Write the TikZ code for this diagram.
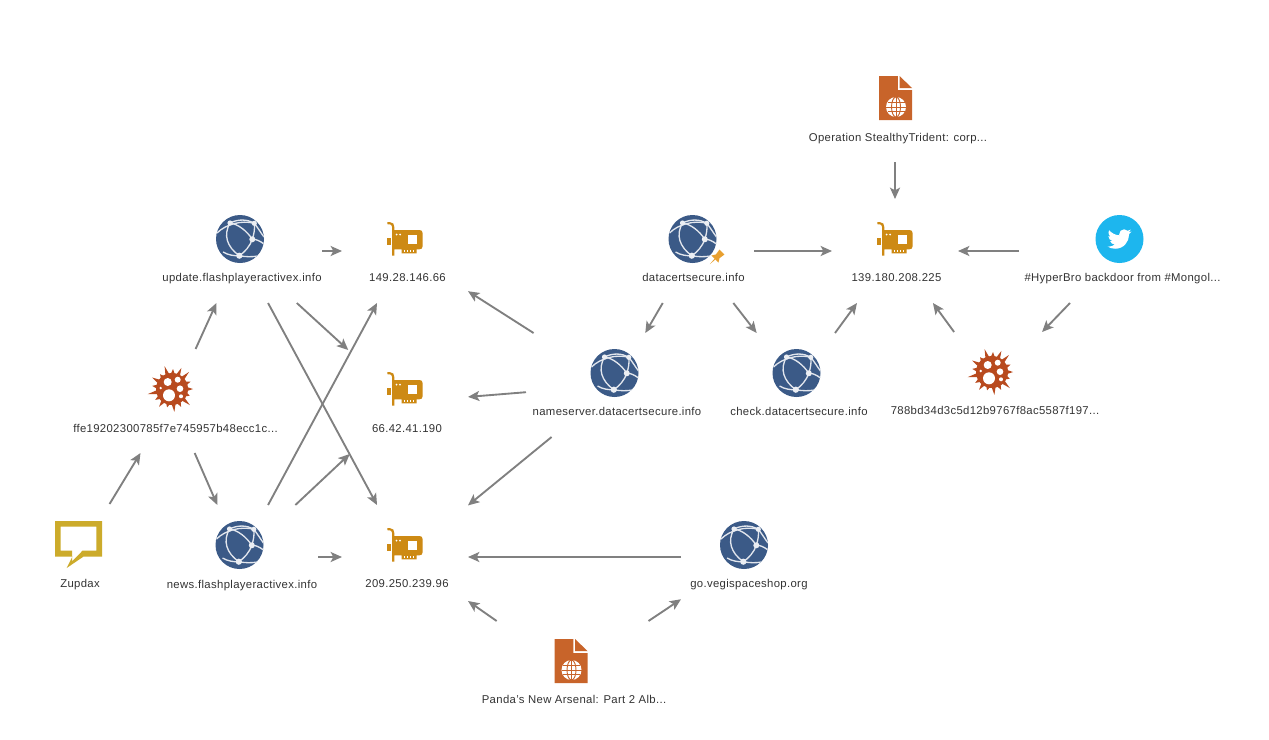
\documentclass[tikz,border=0pt]{standalone}
\usepackage{fontspec}
\setmainfont[LetterSpace=3]{Liberation Sans}
\usetikzlibrary{arrows.meta}
\definecolor{globec}{HTML}{3B5A87}
\definecolor{chipc}{HTML}{CD8A14}
\definecolor{docc}{HTML}{C8642A}
\definecolor{malc}{HTML}{B84A1E}
\definecolor{twc}{HTML}{1DB6EE}
\definecolor{cmc}{HTML}{CCAB2B}
\definecolor{pinc}{HTML}{E8A030}
\definecolor{connc}{HTML}{808080}
\definecolor{labc}{HTML}{333333}
\tikzset{
  ent/.style={rectangle,minimum width={1.5pt*#1},minimum height=78pt,inner sep=0pt,outer sep=0pt},
  lab/.style={inner sep=0pt,outer sep=0pt,text=labc,text height=6.5pt,text depth=2pt,font=\fontsize{8.5pt}{10pt}\selectfont},
  conn/.style={draw=connc,line width=1.4pt,-{Stealth[length=8.5pt,width=7.5pt,inset=2pt]}},
  wl/.style={draw=white!85!globec,line width=1pt}
}
\newcommand{\globeicon}[1]{\begin{scope}[shift={(#1)}]
  \fill[globec] (0,0) circle (24);
  \begin{scope}
  \clip (0,0) circle (24);
  \draw[wl] (-10,-16) .. controls (-2,-20) and (7,-20) .. (14.3,-15.7);
  \draw[wl] (-23,-6) .. controls (-14,-15) and (2,-19) .. (14.3,-15.7);
  \draw[wl] (-10,-16) .. controls (-17,-4) and (-13,8) .. (-.7,16.7);
  \draw[wl] (-10,-16) .. controls (-2,-15) and (7,-8) .. (12.3,.3);
  \draw[wl] (14.3,-15.7) .. controls (15,-10) and (14,-5) .. (12.3,.3);
  \draw[wl] (12.3,.3) .. controls (10,7) and (5,13) .. (-.7,16.7);
  \draw[wl] (-17,13) .. controls (-12,16) and (-6,17) .. (-.7,16.7) .. controls (6,18) and (12,18) .. (18,17);
  \draw[wl] (14.3,-15.7) .. controls (18,-11) and (21,-6) .. (24,-2);
  \draw[wl] (12.3,.3) .. controls (16,0) and (20,2) .. (24,5);
  \end{scope}
  \fill[white!90!globec] (14.3,-15.7) circle (2.6) (12.3,.3) circle (3) (-.7,16.7) circle (3.1) (-10,-16) circle (2.6);
\end{scope}}
\newcommand{\chipicon}[1]{\begin{scope}[shift={(#1)}]
  \fill[chipc] (-17.7,-16.8) -- (-15,-16.8) .. controls (-12,-16.8) and (-10.7,-15) .. (-10.7,-12) -- (-10.7,-9)
     -- (14.5,-9) .. controls (16.5,-9) and (17.5,-8) .. (17.5,-6) -- (17.5,7.5) .. controls (17.5,9.3) and (16.5,10.3) .. (14.5,10.3)
     -- (11.7,10.3) -- (11.7,14.3) -- (-3.3,14.3) -- (-3.3,10.3) -- (-10.7,10.3) -- (-10.7,16.5) -- (-12.8,16.5) -- (-12.8,-12)
     .. controls (-12.8,-14) and (-14,-14.8) .. (-17.7,-14.8) -- cycle;
  \fill[chipc] (-17.7,-.7) rectangle (-13.6,6);
  \fill[white] (3.3,-4) rectangle (12.3,5);
  \fill[white] (-8.5,-4.5) circle (1) (-5,-4.5) circle (1);
  \foreach \sx in {-1.3,1.7,4.7,7.7}{\fill[white] (\sx,10.8) rectangle ++(1.3,2.2);}
\end{scope}}
\newcommand{\docicon}[1]{\begin{scope}[shift={(#1)}]
  \fill[docc] (-16.5,-22) -- (2.3,-22) -- (2.3,-8) -- (16.5,-8) -- (16.5,22) -- (-16.5,22) -- cycle;
  \fill[docc] (4,-22) -- (16.5,-10) -- (4,-10) -- cycle;
  \fill[white] (.5,9) circle (10);
  \begin{scope}[draw=docc,line width=.7pt]
    \draw (.5,9) ellipse (4.5 and 10);
    \draw (-9.5,9) -- (10.5,9) (.5,-1) -- (.5,19);
    \draw (-8,4.5) -- (9,4.5) (-8,13.5) -- (9,13.5);
  \end{scope}
\end{scope}}
\newcommand{\malicon}[1]{\begin{scope}[shift={(#1)}]
  \fill[malc] (0,0) circle (16);
  \foreach \a/\r in {0/21,21/19,42/24,63/20,84/23,105/19,126/22,147/20,168/25,189/20,210/23,231/19,252/24,273/20,294/23,315/24,338/20}{
    \fill[malc] (\a-7.5:15.2) -- (\a:\r) -- (\a+7.5:15.2) -- cycle;}
  \fill[white] (-3,6.3) circle (6) (-4.3,-7) circle (4) (5.7,-9.3) circle (3)
     (8,-.3) circle (3.3) (9,7.3) circle (2) (-11.3,-1) circle (1.3);
\end{scope}}
\newcommand{\twicon}[1]{\begin{scope}[shift={(#1)}]
  \fill[twc] (0,0) circle (24);
  \fill[white,shift={(-12,-12)}] (23.95,4.57) -- (21.13,5.35) .. controls (22.2,4.7) and (23,3.75) .. (23.29,2.62)
   .. controls (22.34,3.18) and (21.29,3.58) .. (20.16,3.8) .. controls (19.2,2.8) and (18,2.3) .. (16.6,2.3)
   .. controls (13.9,2.3) and (11.7,4.5) .. (11.7,7.2) .. controls (11.7,7.6) and (11.75,7.95) .. (11.78,8.3)
   .. controls (7.69,8.1) and (4.07,6.13) .. (1.64,3.16) .. controls (1.2,3.9) and (.97,4.75) .. (.97,5.64)
   .. controls (.97,7.35) and (1.84,8.85) .. (3.16,9.73) -- (.93,9.12) -- (.93,9.18)
   .. controls (.93,11.6) and (2.6,13.5) .. (4.88,14) -- (2.67,14.09)
   .. controls (3.3,16.1) and (5.1,17.45) .. (7.27,17.5) .. controls (5.6,18.8) and (3.5,19.6) .. (1.17,19.6)
   -- (0,19.54) .. controls (2.2,20.9) and (4.8,21.75) .. (7.56,21.75)
   .. controls (16.6,21.75) and (21.55,14.25) .. (21.55,7.76) -- (21.54,7.13)
   .. controls (22.5,6.45) and (23.35,5.55) .. (24,4.59) -- cycle;
\end{scope}}
\begin{document}
\begin{tikzpicture}[x=.75pt,y=-.75pt]
\useasboundingbox (0,0) rectangle (1269,739);
\fill[white] (0,0) rectangle (1269,739);
% entity boxes (invisible, connectors attach to them)
\node[ent=82]  (update) at (240,251) {};
\node[ent=63]  (ipa)    at (405,251) {};
\node[ent=61]  (dc)     at (693,251) {};
\node[ent=63]  (ipd)    at (895,251) {};
\node[ent=101] (hyper)  at (1120,251) {};
\node[ent=92]  (op)     at (895,110) {};
\node[ent=108] (ffe)    at (172,401) {};
\node[ent=63]  (ipb)    at (405,402) {};
\node[ent=89]  (ns)     at (615,385) {};
\node[ent=72]  (chk)    at (797,385) {};
\node[ent=110] (mal)    at (992,384) {};
\node[ent=63]  (zup)    at (78,556) {};
\node[ent=78]  (news)   at (240,557) {};
\node[ent=63]  (ipc)    at (405,557) {};
\node[ent=63]  (go)     at (744,557) {};
\node[ent=95]  (panda)  at (571,673) {};
% icons
\globeicon{240,239} \globeicon{692.5,239} \globeicon{614.5,373} \globeicon{796.5,373} \globeicon{239.5,545} \globeicon{744,545}
\chipicon{405,239} \chipicon{405,389} \chipicon{405,545} \chipicon{895,239}
\docicon{895.5,98} \docicon{571,661}
\malicon{172,389} \malicon{992,372}
\twicon{1119.5,239}
\fill[cmc,even odd rule] (55,521) -- (102,521) -- (102,556.7) -- (83.3,556.7) -- (66.7,568) -- (72.3,556.7) -- (55,556.7) -- cycle
  (60.7,526.7) -- (60.7,550.7) -- (72,550.7) -- (72,561.5) -- (82.5,550.7) -- (96.3,550.7) -- (96.3,526.7) -- cycle;
\begin{scope}[shift={(717,257)},rotate=-45]
  \fill[pinc] (-3.5,-7) -- (3.5,-7) -- (2.6,-1) -- (5,3) -- (-5,3) -- (-2.6,-1) -- cycle;
  \fill[pinc] (-.6,3) -- (.6,3) -- (0,10) -- cycle;
\end{scope}
% labels
\node[lab] (l1)  at (242,278) {update.flashplayeractivex.info};
\node[lab] (l2)  at (407.5,278) {149.28.146.66};
\node[lab] (l3)  at (693.5,278) {datacertsecure.info};
\node[lab] (l4)  at (896.5,278) {139.180.208.225};
\node[lab] (l5)  at (1122.5,278) {\#HyperBro backdoor from \#Mongol...};
\node[lab] (l6)  at (898,138) {Operation StealthyTrident: corp...};
\node[lab] (l7)  at (175.5,429) {ffe19202300785f7e745957b48ecc1c...};
\node[lab] (l8)  at (407,429) {66.42.41.190};
\node[lab] (l9)  at (617,412) {nameserver.datacertsecure.info};
\node[lab] (l10) at (799,412) {check.datacertsecure.info};
\node[lab] (l11) at (995,411) {788bd34d3c5d12b9767f8ac5587f197...};
\node[lab] (l12) at (80,584) {Zupdax};
\node[lab] (l13) at (242,585) {news.flashplayeractivex.info};
\node[lab] (l14) at (407,584) {209.250.239.96};
\node[lab] (l15) at (749,584) {go.vegispaceshop.org};
\node[lab] (l16) at (574,700) {Panda’s New Arsenal: Part 2 Alb...};
% connectors
\draw[conn] (update) -- (ipa);
\draw[conn] (update) -- (ipb);
\draw[conn] (update) -- (ipc);
\draw[conn] (ffe) -- (update);
\draw[conn] (ffe) -- (news);
\draw[conn] (zup) -- (ffe);
\draw[conn] (news) -- (ipa);
\draw[conn] (news) -- (ipb);
\draw[conn] (news) -- (ipc);
\draw[conn] (ns) -- (ipa);
\draw[conn] (ns) -- (ipb);
\draw[conn] (ns) -- (ipc);
\draw[conn] (go) -- (ipc);
\draw[conn] (panda) -- (ipc);
\draw[conn] (panda) -- (go);
\draw[conn] (dc) -- (ipd);
\draw[conn] (dc) -- (ns);
\draw[conn] (dc) -- (chk);
\draw[conn] (chk) -- (ipd);
\draw[conn] (mal) -- (ipd);
\draw[conn] (hyper) -- (ipd);
\draw[conn] (hyper) -- (mal);
\draw[conn] (op) -- (ipd);
\end{tikzpicture}
\end{document}
